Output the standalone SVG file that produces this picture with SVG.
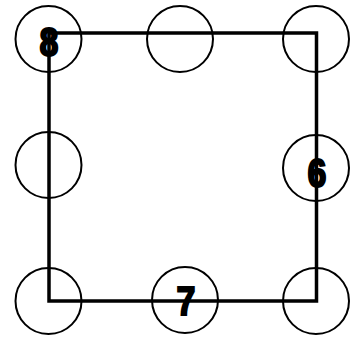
<svg xmlns="http://www.w3.org/2000/svg" width="351" height="338" viewBox="0 0 351 338">
<style>
.c{fill:none;stroke:#000;stroke-width:2}
.l{fill:none;stroke:#000;stroke-width:3.5}
.t{font-family:"Liberation Sans",Arial,sans-serif;font-weight:bold;font-size:40px;fill:#000;stroke:#000;stroke-width:2;text-anchor:middle}
</style>
<rect width="351" height="338" fill="#fff"/>
<g id="connectors">
<polygon class="l" points="49,33 316.5,33 316.5,301 49,301"/>
</g>
<g id="n8"><circle class="c" cx="48.5" cy="39" r="33"/><text class="t" x="49" y="56" transform="translate(49 0) scale(0.85 1) translate(-49 0)">8</text></g>
<g id="n2"><circle class="c" cx="180" cy="39" r="33"/></g>
<g id="n3"><circle class="c" cx="316" cy="39" r="33"/></g>
<g id="n4"><circle class="c" cx="48.5" cy="165" r="33"/></g>
<g id="n6"><circle class="c" cx="316" cy="168" r="33"/><text class="t" x="317" y="187" transform="translate(317 0) scale(0.85 1) translate(-317 0)">6</text></g>
<g id="n5"><circle class="c" cx="48.5" cy="301" r="33"/></g>
<g id="n7"><circle class="c" cx="185" cy="300" r="33"/><text class="t" x="186" y="315" transform="translate(186 0) scale(0.85 1) translate(-186 0)">7</text></g>
<g id="n9"><circle class="c" cx="316" cy="301" r="33"/></g>
</svg>
